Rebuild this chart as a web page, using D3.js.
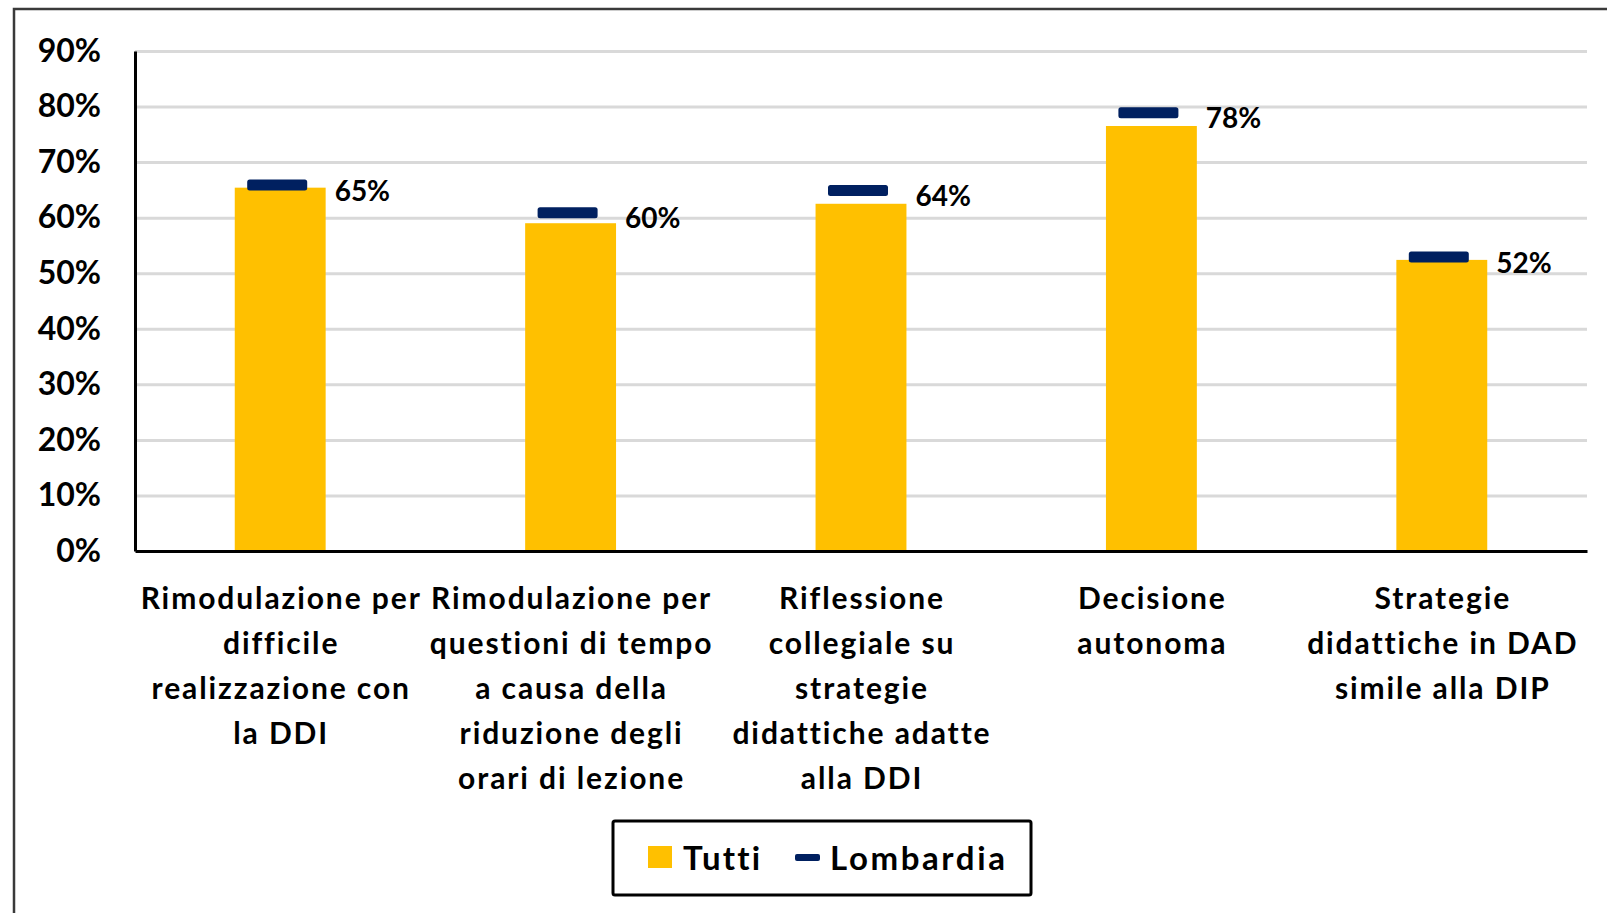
<!DOCTYPE html>
<html>
<head>
<meta charset="utf-8">
<script src="https://cdn.jsdelivr.net/npm/d3@7"></script>
<style>
  body { margin: 0; background: #fff; }
  svg { display: block; font-family: Lato, "Open Sans", sans-serif; font-weight: 700; font-variant-ligatures: none; }
</style>
</head>
<body>
<svg id="chart" width="1607" height="913"></svg>
<script>
// categories, one array of lines per label
const categories = ['A', 'B', 'C', 'D', 'E']
const categoryLines = [
    ['Rimodulazione per', 'difficile', 'realizzazione con', 'la DDI'],
    ['Rimodulazione per', 'questioni di tempo', 'a causa della', 'riduzione degli', 'orari di lezione'],
    ['Riflessione', 'collegiale su', 'strategie', 'didattiche adatte', 'alla DDI'],
    ['Decisione', 'autonoma'],
    ['Strategie', 'didattiche in DAD', 'simile alla DIP']
]
const tutti = [0.654, 0.590, 0.625, 0.765, 0.524]
const lombardia = [0.65, 0.60, 0.64, 0.78, 0.52]
const yTicks = [0, 0.1, 0.2, 0.3, 0.4, 0.5, 0.6, 0.7, 0.8, 0.9]
const seriesNames = ['Tutti', 'Lombardia']

const yellow = '#ffc000', navy = '#002060'
const pct = d3.format('.0%')

let svg = d3.select('#chart')

// outer frame (only top and left visible)
svg.append('path')
    .attr('d', 'M14,913 V9 H1607')
    .attr('fill', 'none')
    .attr('stroke', '#3a3a3a')
    .attr('stroke-width', 2.5)

let margin = {left: 135, right: 20, top: 51, bottom: 362}
let width = 1607 - margin.left - margin.right,
    height = 913 - margin.top - margin.bottom

let g = svg.append('g').attr('transform', `translate(${margin.left},${margin.top})`)

let x = d3.scaleBand().domain(categories).range([0, width]).padding(0)
let y = d3.scaleLinear().domain([0, 0.9]).range([height, 0])

// gridlines
g.append('g')
    .call(d3.axisLeft(y).tickValues(yTicks.slice(1)).tickSize(-width).tickFormat(''))
    .call(a => a.select('.domain').remove())
    .selectAll('line')
    .attr('stroke', '#d9d9d9')
    .attr('stroke-width', 3)

// bars
let barW = x.bandwidth() * 0.313
g.selectAll('.bar')
    .data(tutti)
    .enter().append('rect')
    .attr('x', (d, i) => x(categories[i]) + x.bandwidth() / 2 - barW / 2)
    .attr('y', d => y(d))
    .attr('width', barW)
    .attr('height', d => y(0) - y(d))
    .attr('fill', yellow)

// y axis
g.append('g')
    .call(d3.axisLeft(y).tickValues(yTicks).tickSize(0).tickSizeOuter(0).tickPadding(34).tickFormat(pct))
    .call(a => a.select('.domain').attr('stroke', '#000').attr('stroke-width', 3))
    .selectAll('text')
    .attr('font-family', 'Lato, sans-serif')
    .attr('font-weight', 700)
    .attr('font-size', 32)
    .attr('fill', '#000')

// x axis
g.append('g')
    .attr('transform', `translate(0,${height})`)
    .call(d3.axisBottom(x).tickSize(0).tickSizeOuter(0).tickFormat(''))
    .select('.domain').attr('stroke', '#000').attr('stroke-width', 3)

// category labels
let labels = g.append('g').selectAll('text')
    .data(categoryLines)
    .enter().append('text')
    .attr('text-anchor', 'middle')
    .attr('font-size', 30)
    .attr('letter-spacing', 1.9)
    .attr('fill', '#000')
labels.each(function (lines, i) {
    let t = d3.select(this)
    lines.forEach((line, j) => {
        t.append('tspan')
            .attr('x', x(categories[i]) + x.bandwidth() / 2 + 1)
            .attr('y', height + 47 + j * 45)
            .attr('dy', '0.35em')
            .text(line)
    })
})

// lombardia markers
g.selectAll('.marker')
    .data(lombardia)
    .enter().append('rect')
    .attr('x', (d, i) => x(categories[i]) + x.bandwidth() / 2 - 33)
    .attr('y', d => y(d) - 10.5)
    .attr('width', 60)
    .attr('height', 11)
    .attr('rx', 2.5)
    .attr('fill', navy)

// value labels
g.selectAll('.val')
    .data(lombardia)
    .enter().append('text')
    .attr('x', (d, i) => x(categories[i]) + x.bandwidth() / 2 + barW / 2 + 9)
    .attr('y', d => y(d) + 1)
    .attr('dy', '0.35em')
    .attr('font-size', 28)
    .attr('fill', '#000')
    .text(d => pct(d))

// legend
let legend = svg.append('g').attr('transform', 'translate(613,821)')
legend.append('rect')
    .attr('x', 0).attr('y', 0)
    .attr('width', 418).attr('height', 74)
    .attr('rx', 2)
    .attr('fill', '#fff')
    .attr('stroke', '#000')
    .attr('stroke-width', 3)
legend.append('rect')
    .attr('x', 35).attr('y', 25).attr('width', 24).attr('height', 22)
    .attr('fill', yellow)
legend.append('text')
    .attr('x', 70).attr('y', 37).attr('dy', '0.35em')
    .attr('font-size', 33)
    .attr('letter-spacing', 2.2)
    .text(seriesNames[0])
legend.append('rect')
    .attr('x', 182).attr('y', 33).attr('width', 25).attr('height', 7).attr('rx', 2)
    .attr('fill', navy)
legend.append('text')
    .attr('x', 217).attr('y', 37).attr('dy', '0.35em')
    .attr('font-size', 33)
    .attr('letter-spacing', 2.6)
    .text(seriesNames[1])
</script>
</body>
</html>
